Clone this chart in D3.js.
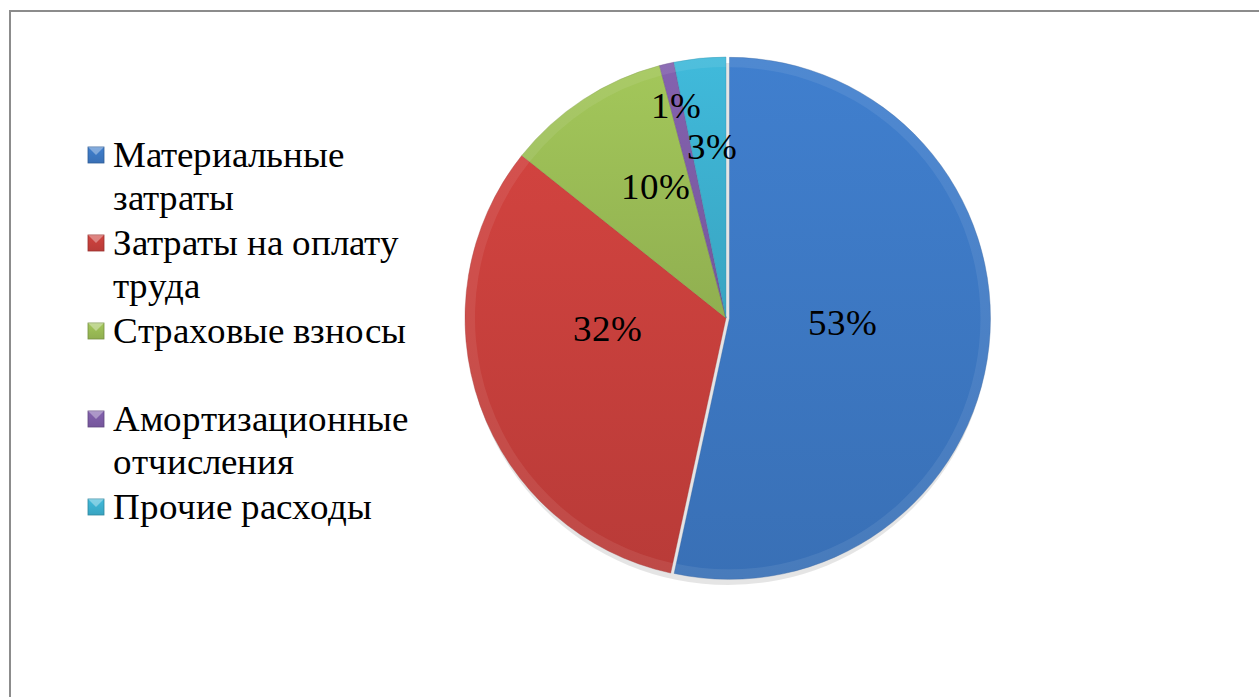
<!DOCTYPE html>
<meta charset="utf-8">
<style>
@font-face { font-family: "ChartSerif"; src: local("Liberation Serif"), local("LiberationSerif"), local("LiberationSerif-Regular"); }
body { margin: 0; }
#chart text, #chart tspan { font-family: "ChartSerif", "Liberation Serif", "Times New Roman", serif !important; }
</style>
<body>
<svg id="chart" width="1259" height="697"></svg>
<script src="https://cdn.jsdelivr.net/npm/d3@7/dist/d3.min.js"></script>
<script>
// data (percent of total costs)
var categories = [["Материальные", "затраты"], ["Затраты на оплату", "труда"], ["Страховые взносы"], ["Амортизационные", "отчисления"], ["Прочие расходы"]];
var values = [53.4, 32.3, 10.2, 0.9, 3.2];
var labels = ["53%", "32%", "10%", "1%", "3%"];

// looks
var colors = ["#3c76c0", "#c33e3b", "#98b954", "#7b5ba3", "#3cadcc"];
var labelRadius = [0.445, 0.456, 0.575, 0.84, 0.66];   // fraction of radius
var labelNudge = [-4, 15, 5, 0, 1];                      // degrees

var svg = d3.select("#chart"),
    cx = 726, cy = 318, radius = 261;

var defs = svg.append("defs");

colors.forEach(function(c, i) {
  var gr = defs.append("linearGradient").attr("id", "grad" + i)
      .attr("x1", 0).attr("y1", 0).attr("x2", 0).attr("y2", 1);
  gr.append("stop").attr("offset", "0%").attr("stop-color", d3.color(c).brighter(0.2));
  gr.append("stop").attr("offset", "100%").attr("stop-color", d3.color(c).darker(0.15));
});

// frame
svg.append("rect")
    .attr("x", 10).attr("y", 11)
    .attr("width", 1300).attr("height", 800)
    .attr("fill", "none").attr("stroke", "#8c8c8c").attr("stroke-width", 2);

var pie = d3.pie().sort(null).value(function(d) { return d; });
var arcs = pie(values);

var arc = d3.arc().innerRadius(0).outerRadius(radius);

function explode(d, i) {
  var x = cx, y = cy;
  if (i === 0) {
    var a = (d.startAngle + d.endAngle) / 2, off = 3.5;
    x += Math.sin(a) * off;
    y -= Math.cos(a) * off;
  }
  return "translate(" + x + "," + y + ")";
}

// soft shadow below the pie
svg.append("circle")
    .attr("cx", cx + 2).attr("cy", cy + 6).attr("r", radius)
    .attr("fill", "#000").attr("fill-opacity", 0.1);

svg.selectAll("path.slice")
  .data(arcs)
  .enter().append("path")
    .attr("class", "slice")
    .attr("d", arc)
    .attr("transform", explode)
    .attr("fill", function(d, i) { return "url(#grad" + i + ")"; })
    .attr("stroke", function(d, i) { return d3.color(colors[i]).darker(0.6); })
    .attr("stroke-opacity", 0.35)
    .attr("stroke-width", 1);

// lighter rim for the bevel look
var rim = d3.arc().innerRadius(radius - 10).outerRadius(radius);
svg.selectAll("path.rim")
  .data(arcs)
  .enter().append("path")
    .attr("class", "rim")
    .attr("d", rim)
    .attr("transform", explode)
    .attr("fill", "#fff")
    .attr("fill-opacity", 0.08);

// percent labels
arcs.forEach(function(d, i) {
  var a = (d.startAngle + d.endAngle) / 2 + labelNudge[i] * Math.PI / 180,
      r = radius * labelRadius[i];
  svg.append("text")
      .attr("font-family", "Liberation Serif, serif")
      .attr("font-size", 37)
      .attr("text-anchor", "middle")
      .attr("x", cx + Math.sin(a) * r)
      .attr("y", cy - Math.cos(a) * r + 13)
      .text(labels[i]);
});

// legend
categories.forEach(function(lines, i) {
  var y = 155 + i * 88;
  svg.append("rect")
      .attr("x", 88).attr("y", y - 8).attr("width", 16).attr("height", 16)
      .attr("fill", "url(#grad" + i + ")")
      .attr("stroke", d3.color(colors[i]).darker(0.7))
      .attr("stroke-width", 0.8);
  svg.append("path")
      .attr("d", "M88," + (y - 8) + " L104," + (y - 8) + " L96," + y + " Z")
      .attr("fill", "#fff").attr("fill-opacity", 0.35);
  var t = svg.append("text")
      .attr("font-family", "Liberation Serif, serif")
      .attr("font-size", 37)
      .attr("x", 113)
      .attr("y", y + 12);
  lines.forEach(function(s, j) {
    t.append("tspan").attr("x", 113).attr("dy", j ? 43 : 0).text(s);
  });
});
</script>
</body>
